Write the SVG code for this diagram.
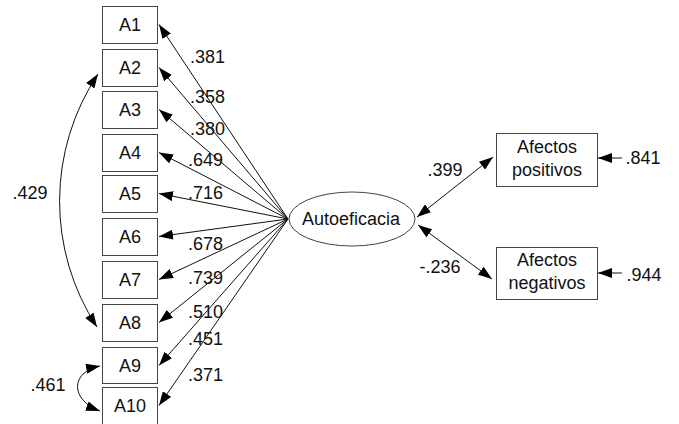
<svg xmlns="http://www.w3.org/2000/svg" width="679" height="424" viewBox="0 0 679 424">
<style>
.box{fill:#fff;stroke:#444;stroke-width:1}
.t{font-family:"Liberation Sans",Arial,sans-serif;font-size:18px;fill:#111;text-anchor:middle}
.l{font-family:"Liberation Sans",Arial,sans-serif;font-size:18px;fill:#111}
.c{fill:none;stroke:#111;stroke-width:1}
</style>
<defs>
<marker id="ah" viewBox="0 0 14 10" refX="14" refY="5" markerWidth="14" markerHeight="10" markerUnits="userSpaceOnUse" orient="auto-start-reverse">
<path d="M0,0 L14,5 L0,10 z" fill="#000"/>
</marker>
</defs>
<g id="connectors">
<line class="c" x1="288" y1="219" x2="159" y2="24.5" marker-end="url(#ah)"/>
<line class="c" x1="288" y1="219" x2="159" y2="67.5" marker-end="url(#ah)"/>
<line class="c" x1="288" y1="219" x2="159" y2="109.5" marker-end="url(#ah)"/>
<line class="c" x1="288" y1="219" x2="159" y2="152.5" marker-end="url(#ah)"/>
<line class="c" x1="288" y1="219" x2="159" y2="193.5" marker-end="url(#ah)"/>
<line class="c" x1="288" y1="219" x2="159" y2="236.5" marker-end="url(#ah)"/>
<line class="c" x1="288" y1="219" x2="159" y2="279.5" marker-end="url(#ah)"/>
<line class="c" x1="288" y1="219" x2="159" y2="322.5" marker-end="url(#ah)"/>
<line class="c" x1="288" y1="219" x2="159" y2="365.5" marker-end="url(#ah)"/>
<line class="c" x1="288" y1="219" x2="159" y2="405.5" marker-end="url(#ah)"/>
<path class="c" d="M98,74 A230,230 0 0 0 97,327" marker-start="url(#ah)" marker-end="url(#ah)"/>
<path class="c" d="M100,366 C70,372 70,400 100,411" marker-start="url(#ah)" marker-end="url(#ah)"/>
<line class="c" x1="417" y1="217" x2="493" y2="157" marker-start="url(#ah)" marker-end="url(#ah)"/>
<line class="c" x1="418" y1="225" x2="492" y2="279" marker-start="url(#ah)" marker-end="url(#ah)"/>
<line class="c" x1="622" y1="158" x2="598" y2="158" marker-end="url(#ah)"/>
<line class="c" x1="622" y1="273" x2="598" y2="273" marker-end="url(#ah)"/>
<text class="l" x="190" y="63">.381</text>
<text class="l" x="190" y="103">.358</text>
<text class="l" x="190" y="135">.380</text>
<text class="l" x="188" y="166">.649</text>
<text class="l" x="188" y="199">.716</text>
<text class="l" x="188" y="250">.678</text>
<text class="l" x="188" y="284">.739</text>
<text class="l" x="188" y="318">.510</text>
<text class="l" x="188" y="345">.451</text>
<text class="l" x="188" y="381">.371</text>
<text class="t" x="30" y="199">.429</text>
<text class="t" x="48" y="391">.461</text>
<text class="t" x="445" y="176">.399</text>
<text class="t" x="440" y="273">-.236</text>
<text class="t" x="643" y="164">.841</text>
<text class="t" x="644" y="281">.944</text>
</g>
<g id="A1"><rect class="box" x="102.5" y="6.5" width="55" height="37"/><text class="t" x="130" y="31">A1</text></g>
<g id="A2"><rect class="box" x="102.5" y="49.5" width="55" height="37"/><text class="t" x="130" y="74">A2</text></g>
<g id="A3"><rect class="box" x="102.5" y="91.5" width="55" height="37"/><text class="t" x="130" y="116">A3</text></g>
<g id="A4"><rect class="box" x="102.5" y="134.5" width="55" height="37"/><text class="t" x="130" y="159">A4</text></g>
<g id="A5"><rect class="box" x="102.5" y="175.5" width="55" height="37"/><text class="t" x="130" y="200">A5</text></g>
<g id="A6"><rect class="box" x="102.5" y="218.5" width="55" height="37"/><text class="t" x="130" y="243">A6</text></g>
<g id="A7"><rect class="box" x="102.5" y="261.5" width="55" height="37"/><text class="t" x="130" y="286">A7</text></g>
<g id="A8"><rect class="box" x="102.5" y="304.5" width="55" height="37"/><text class="t" x="130" y="329">A8</text></g>
<g id="A9"><rect class="box" x="102.5" y="347.5" width="55" height="36"/><text class="t" x="130" y="372">A9</text></g>
<g id="A10"><rect class="box" x="102.5" y="387.5" width="55" height="37"/><text class="t" x="130" y="412">A10</text></g>
<g id="Autoeficacia"><ellipse class="box" cx="352" cy="219" rx="63" ry="27"/><text class="t" x="351" y="225">Autoeficacia</text></g>
<g id="AfectosPositivos"><rect class="box" x="496.5" y="133.5" width="101" height="53"/><text class="t" x="547" y="153">Afectos</text><text class="t" x="547" y="176">positivos</text></g>
<g id="AfectosNegativos"><rect class="box" x="496.5" y="247.5" width="101" height="52"/><text class="t" x="547" y="266">Afectos</text><text class="t" x="547" y="289">negativos</text></g>
</svg>
